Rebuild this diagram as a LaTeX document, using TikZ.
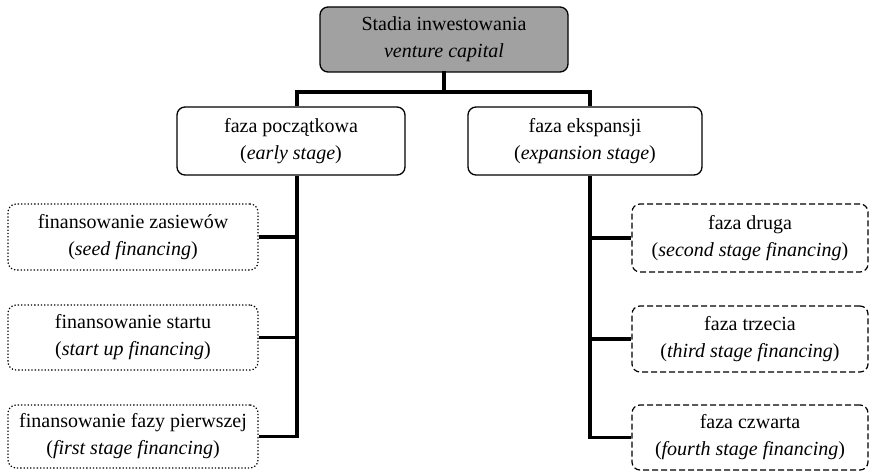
\documentclass[tikz,border=0pt]{standalone}
\usepackage{fontspec}
\setmainfont{Liberation Serif}
\begin{document}
\begin{tikzpicture}[x=1pt,y=-1pt,
  box/.style={draw=black, line width=1.3pt, rounded corners=8pt, align=center,
    font=\fontsize{20}{27}\selectfont, inner sep=0pt},
  topbox/.style={box, fill=black!37},
  midbox/.style={box},
  leftbox/.style={box, dotted, line width=1.2pt},
  rightbox/.style={box, dashed, dash pattern=on 6pt off 3pt, line width=1.2pt},
  conn/.style={line width=3.6pt, line cap=rect}]
\useasboundingbox (0,0) rectangle (875,473);
\node[topbox, minimum width=248pt, minimum height=65pt] (top) at (444,39.5) {Stadia inwestowania\\\textit{venture capital}};
\node[midbox, minimum width=228pt, minimum height=68pt] (early) at (291,141) {faza początkowa\\(\textit{early stage})};
\node[midbox, minimum width=234pt, minimum height=68pt] (exp) at (585,141) {faza ekspansji\\(\textit{expansion stage})};
\node[leftbox, minimum width=250pt, minimum height=66pt] (l1) at (133,237) {finansowanie zasiewów\\(\textit{seed financing})};
\node[leftbox, minimum width=250pt, minimum height=65pt] (l2) at (133,337.5) {finansowanie startu\\(\textit{start up financing})};
\node[leftbox, minimum width=250pt, minimum height=63pt] (l3) at (133,436.5) {finansowanie fazy pierwszej\\(\textit{first stage financing})};
\node[rightbox, minimum width=236pt, minimum height=68pt] (r1) at (750,238) {faza druga\\(\textit{second stage financing})};
\node[rightbox, minimum width=236pt, minimum height=66pt] (r2) at (750,339) {faza trzecia\\(\textit{third stage financing})};
\node[rightbox, minimum width=236pt, minimum height=65pt] (r3) at (750,437.5) {faza czwarta\\(\textit{fourth stage financing})};
\coordinate (hb) at (444,92);
\coordinate (lx) at (297,0);
\coordinate (rx) at (590,0);
\draw[conn] (top.south) -- (hb);
\draw[conn, line cap=butt] (lx |- early.north) -- (lx |- hb) -- (rx |- hb) -- (rx |- exp.north);
\draw[conn, line cap=butt] (lx |- early.south) -- (lx |- l3.east) -- (l3.east);
\draw[conn, line cap=butt] (lx |- l1.east) -- (l1.east);
\draw[conn, line cap=butt] (lx |- l2.east) -- (l2.east);
\draw[conn, line cap=butt] (rx |- exp.south) -- (rx |- r3.west) -- (r3.west);
\draw[conn, line cap=butt] (rx |- r1.west) -- (r1.west);
\draw[conn, line cap=butt] (rx |- r2.west) -- (r2.west);
\end{tikzpicture}
\end{document}
